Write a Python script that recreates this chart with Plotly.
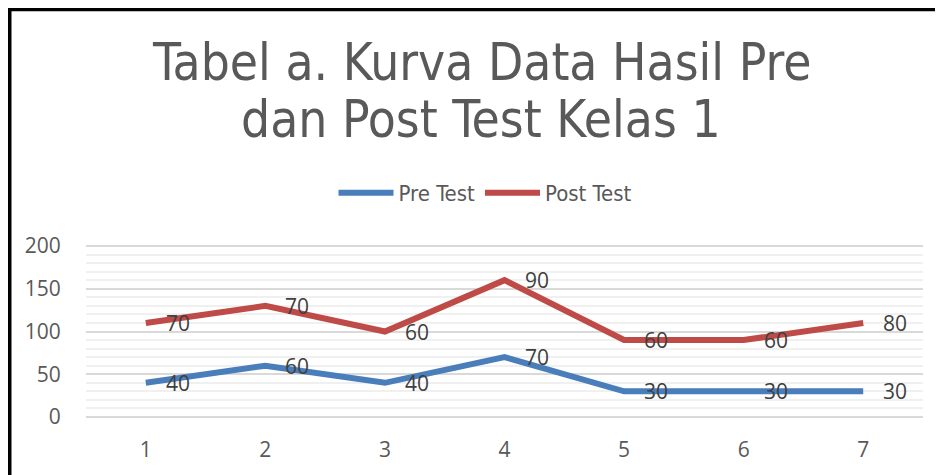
import plotly.graph_objects as go

categories = ["1", "2", "3", "4", "5", "6", "7"]
pre_test = [40, 60, 40, 70, 30, 30, 30]
post_test = [70, 70, 60, 90, 60, 60, 80]
y_ticks = [0, 50, 100, 150, 200]

title_line1 = "Tabel a. Kurva Data Hasil Pre"
title_line2 = "dan Post Test Kelas 1"

BLUE = "#4A7EBB"
RED = "#BE4B48"
OFF = 8                      # page body margin of the html page
W, H = 943 - OFF, 475 - OFF
L, T = 86 - OFF, 244 - OFF   # plot area left/top in figure pixels
PW, PH = 923 - 86, 419 - 244
R, B = W - L - PW, H - T - PH

fig = go.Figure()
fig.add_trace(go.Scatter(x=categories, y=pre_test, name="Pre Test", mode="lines",
                         stackgroup="s", fill="none",
                         line=dict(color=BLUE, width=6)))
fig.add_trace(go.Scatter(x=categories, y=post_test, name="Post Test", mode="lines",
                         stackgroup="s", fill="none",
                         line=dict(color=RED, width=6)))

# data labels (Excel-style "right" placement, showing the raw values)
stack = [0] * len(categories)
for vals in (pre_test, post_test):
    stack = [a + b for a, b in zip(stack, vals)]
    for i, (v, s) in enumerate(zip(vals, stack)):
        fig.add_annotation(x=i, y=s, text=str(v), showarrow=False,
                           xanchor="left", yanchor="middle", xshift=18,
                           font=dict(family="Open Sans, sans-serif", size=21, color="#404040"))

def px_x(p):  # page pixel -> paper
    return (p - OFF - L) / PW

def px_y(p):
    return (T + PH - (p - OFF)) / PH

title_font = dict(family="DejaVu Sans Condensed, sans-serif", size=51, color="#595959")
fig.add_annotation(xref="paper", yref="paper", x=px_x(481), y=px_y(62), text=title_line1,
                   showarrow=False, xanchor="center", yanchor="middle", font=title_font)
fig.add_annotation(xref="paper", yref="paper", x=px_x(481), y=px_y(120), text=title_line2,
                   showarrow=False, xanchor="center", yanchor="middle", font=title_font)

# frame lines (top and left)
fig.add_shape(type="line", xref="paper", yref="paper", x0=px_x(9.5), x1=px_x(960),
              y0=px_y(9.5), y1=px_y(9.5), line=dict(color="black", width=3.5))
fig.add_shape(type="line", xref="paper", yref="paper", x0=px_x(9.75), x1=px_x(9.75),
              y0=px_y(8), y1=px_y(490), line=dict(color="black", width=3.5))

fig.update_layout(
    width=W, height=H,
    margin=dict(l=L, r=R, t=T, b=B, autoexpand=False),
    paper_bgcolor="white", plot_bgcolor="white",
    showlegend=True,
    legend=dict(orientation="h", x=px_x(485), xanchor="center", y=px_y(193), yanchor="middle",
                font=dict(family="DejaVu Sans Condensed, sans-serif", size=22, color="#595959"),
                itemwidth=55, bgcolor="rgba(0,0,0,0)"),
    xaxis=dict(type="category", range=[-0.5, 6.5], showgrid=False, zeroline=False,
               showline=False, ticks="outside", ticklen=12, tickcolor="rgba(0,0,0,0)",
               tickfont=dict(family="Open Sans, sans-serif", size=21, color="#595959")),
    yaxis=dict(range=[-2.3, 202.3], tickvals=y_ticks, showgrid=True, gridcolor="#D9D9D9",
               gridwidth=2, zeroline=False, showline=False,
               ticks="outside", ticklen=20, tickcolor="rgba(0,0,0,0)",
               minor=dict(dtick=10, showgrid=True, gridcolor="#F0F0F0", gridwidth=2),
               tickfont=dict(family="Open Sans, sans-serif", size=21, color="#595959")),
)

fig.write_html("out.html")
